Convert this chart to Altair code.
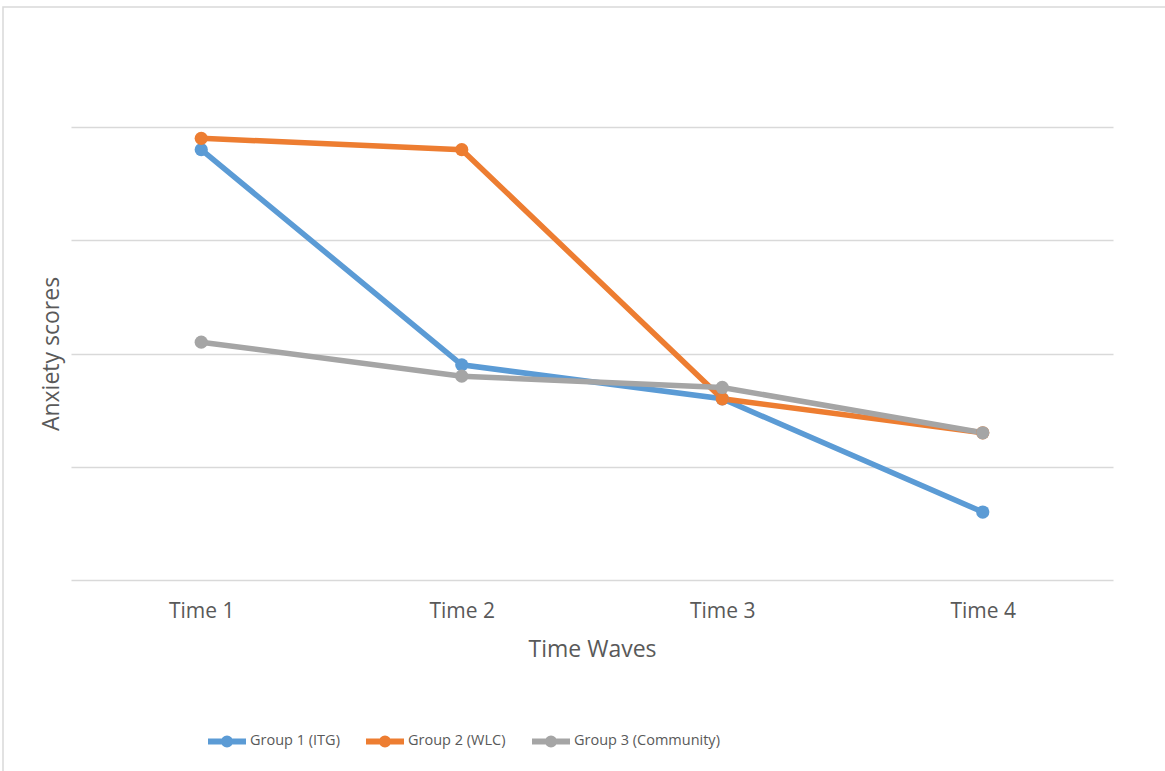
import altair as alt
import pandas as pd

# Anxiety scores of three groups across four measurement waves
times = ["Time 1", "Time 2", "Time 3", "Time 4"]
groups = ["Group 1 (ITG)", "Group 2 (WLC)", "Group 3 (Community)"]
group1_itg = [3.8, 1.9, 1.6, 0.6]
group2_wlc = [3.9, 3.8, 1.6, 1.3]
group3_community = [2.1, 1.8, 1.7, 1.3]
colors = ["#5B9BD5", "#ED7D31", "#A5A5A5"]

rows = []
for g, vals in zip(groups, [group1_itg, group2_wlc, group3_community]):
    for t, v in zip(times, vals):
        rows.append({"wave": t, "group": g, "score": v})
df = pd.DataFrame(rows)

FONT = "Open Sans"
TEXT = "#595959"
GRID = "#D9D9D9"

# legend glyph: a short line with a dot in the middle
legend_glyph = ("M-1,0 H1 "
                "M-0.16,0 A0.16,0.16 0 1,1 0.16,0 A0.16,0.16 0 1,1 -0.16,0 Z")

x_enc = alt.X(
    "wave:N",
    sort=times,
    scale=alt.Scale(paddingInner=0, paddingOuter=0),
    axis=alt.Axis(
        title="Time Waves",
        labelAngle=0,
        ticks=False,
        tickSize=0,
        domain=False,
        grid=False,
        labelFont=FONT,
        labelFontSize=21,
        labelColor=TEXT,
        labelPadding=20,
        titleFont=FONT,
        titleFontSize=23,
        titleFontWeight="normal",
        titleColor=TEXT,
        titlePadding=17,
    ),
)
y_enc = alt.Y(
    "score:Q",
    scale=alt.Scale(domain=[0, 4], nice=False),
    axis=alt.Axis(
        title="Anxiety scores",
        values=[0, 1, 2, 3, 4],
        labels=False,
        ticks=False,
        tickSize=0,
        domain=False,
        grid=True,
        gridColor=GRID,
        gridWidth=1.5,
        titleFont=FONT,
        titleFontSize=23,
        titleFontWeight="normal",
        titleColor=TEXT,
        titlePadding=8,
    ),
)
color_scale = alt.Scale(domain=groups, range=colors)

lines = alt.Chart(df).mark_line(strokeWidth=5.5).encode(
    x=x_enc,
    y=y_enc,
    color=alt.Color(
        "group:N",
        scale=color_scale,
        legend=alt.Legend(
            title=None,
            orient="none",
            direction="horizontal",
            legendX=134,
            legendY=592,
            symbolType=legend_glyph,
            symbolSize=1444,
            symbolStrokeWidth=6,
            labelFont=FONT,
            labelFontSize=14.5,
            labelColor=TEXT,
            labelOffset=1,
            columnPadding=14,
            padding=0,
        ),
    ),
)

points = alt.Chart(df).mark_point(filled=True, size=175, opacity=1).encode(
    x=alt.X("wave:N", sort=times),
    y=alt.Y("score:Q"),
    color=alt.Color("group:N", scale=color_scale, legend=None),
)

# outer chart frame
frame = alt.Chart(pd.DataFrame({"k": [0]})).mark_rect(
    fill=None, stroke=GRID, strokeWidth=1.5
).encode(
    x=alt.value(-68),
    x2=alt.value(1200),
    y=alt.value(-120),
    y2=alt.value(700),
)

chart = alt.layer(frame, lines, points).properties(
    width=1042,
    height=453,
    padding={"left": 71, "top": 127, "right": 52, "bottom": 191},
    autosize=alt.AutoSizeParams(type="none"),
    background="white",
).configure_view(stroke=None)

chart.save("out.html", embed_options={"renderer": "svg", "actions": False})
